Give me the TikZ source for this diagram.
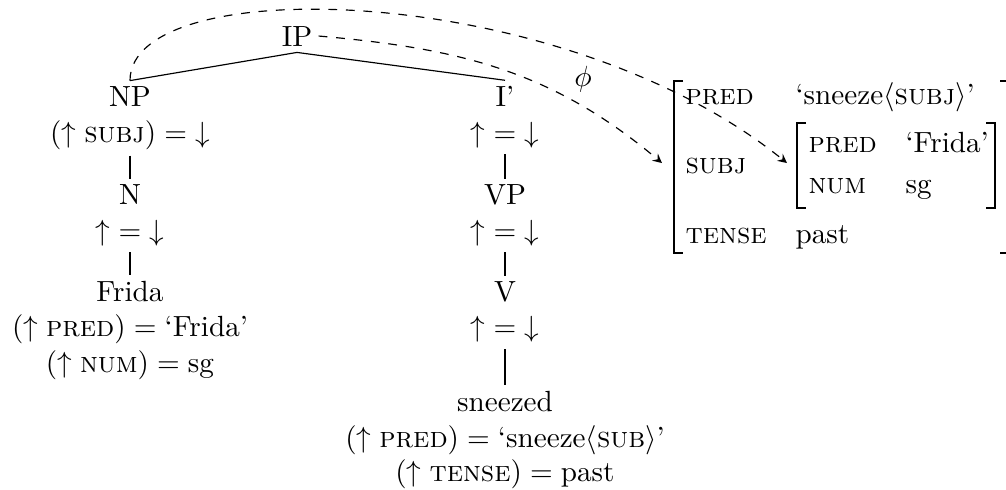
\documentclass[tikz,border=0pt]{standalone}
\usepackage{amsmath}
\begin{document}
\begin{tikzpicture}[
    cat/.style={anchor=base, inner sep=2pt},
    avm/.style={anchor=base west, inner sep=0pt},
    brk/.style={line width=0.6pt},
    phimap/.style={dashed, -stealth}]
  \useasboundingbox (0,0) rectangle (12.112,-5.888);
  % c-structure, left branch
  \node[cat] (ip) at (3.576,-0.554) {IP};
  \node[cat] (np) at (1.565,-1.288) {NP};
  \node[cat] (np-eq) at (1.565,-1.710) {$(\uparrow \textsc{subj}) = {\downarrow}$};
  \node[cat] (n) at (1.565,-2.468) {N};
  \node[cat] (n-eq) at (1.565,-2.890) {${\uparrow} = {\downarrow}$};
  \node[cat] (frida) at (1.565,-3.636) {Frida};
  \node[cat] (frida-pred) at (1.565,-4.057) {$(\uparrow \textsc{pred}) = \text{`Frida'}$};
  \node[cat] (frida-num) at (1.565,-4.479) {$(\uparrow \textsc{num}) = \text{sg}$};
  % right branch
  \node[cat] (ibar) at (6.080,-1.288) {I'};
  \node[cat] (ibar-eq) at (6.080,-1.710) {${\uparrow} = {\downarrow}$};
  \node[cat] (vp) at (6.080,-2.468) {VP};
  \node[cat] (vp-eq) at (6.080,-2.890) {${\uparrow} = {\downarrow}$};
  \node[cat] (v) at (6.080,-3.636) {V};
  \node[cat] (v-eq) at (6.080,-4.057) {${\uparrow} = {\downarrow}$};
  \node[cat] (sneezed) at (6.080,-4.960) {sneezed};
  \node[cat] (sn-pred) at (6.080,-5.382) {$(\uparrow \textsc{pred}) = \text{`sneeze$\langle$\textsc{sub}$\rangle$'}$};
  \node[cat] (sn-tense) at (6.080,-5.803) {$(\uparrow \textsc{tense}) = \text{past}$};
  \draw (ip.south) -- (np.north);
  \draw (ip.south) -- (ibar.north);
  \draw (np-eq.south) -- (n.north);
  \draw (n-eq.south) -- (frida.north);
  \draw (ibar-eq.south) -- (vp.north);
  \draw (vp-eq.south) -- (v.north);
  \draw (v-eq.south) -- (sneezed.north);
  % f-structure
  \node[avm] (f-pred) at (8.247,-1.264) {\textsc{pred}};
  \node[avm] (f-pred-v) at (9.572,-1.264) {`sneeze$\langle$\textsc{subj}$\rangle$'};
  \node[avm] (f-subj) at (8.247,-2.083) {\textsc{subj}};
  \node[avm] (f-tense) at (8.247,-2.926) {\textsc{tense}};
  \node[avm] (f-tense-v) at (9.572,-2.926) {past};
  \node[avm] (g-pred) at (9.728,-1.842) {\textsc{pred}};
  \node[avm] (g-pred-v) at (10.896,-1.842) {`Frida'};
  \node[avm] (g-num) at (9.728,-2.324) {\textsc{num}};
  \node[avm] (g-num-v) at (10.896,-2.324) {sg};
  \draw[brk] (8.223,-0.975) -- (8.115,-0.975) -- (8.115,-3.046) -- (8.223,-3.046);
  \draw[brk] (12.040,-0.975) -- (12.160,-0.975) -- (12.160,-3.046) -- (12.040,-3.046);
  \draw[brk] (9.704,-1.481) -- (9.596,-1.481) -- (9.596,-2.504) -- (9.704,-2.504);
  \draw[brk] (11.872,-1.481) -- (11.980,-1.481) -- (11.980,-2.504) -- (11.872,-2.504);
  \coordinate (f-in) at (7.970,-1.963);
  \coordinate (g-in) at (9.475,-1.963);
  % phi mapping
  \draw[phimap] (ip.east) to[out=-5, in=140] (f-in);
  \draw[phimap] (np.north) .. controls +(0,1.32) and +(-2.73,2.20) .. (g-in);
  \node[anchor=base] (phi) at (7.019,-1.047) {$\phi$};
\end{tikzpicture}
\end{document}
